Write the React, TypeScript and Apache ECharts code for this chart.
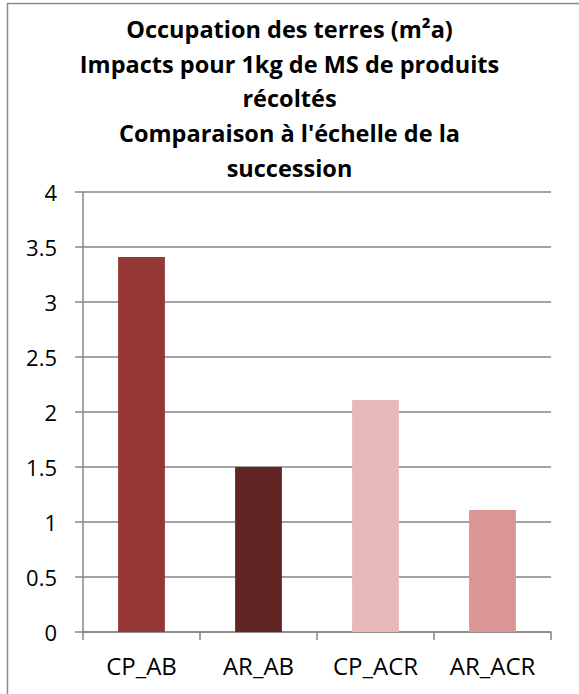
import React, { useEffect, useRef } from "react";
import * as echarts from "echarts";

const categories = ["CP_AB", "AR_AB", "CP_ACR", "AR_ACR"];
const values = [3.41, 1.5, 2.11, 1.11];
const barColors = ["#953735", "#632523", "#E6B9B8", "#D99694"];
const titleLines = [
  "Occupation des terres (m²a)",
  "Impacts pour 1kg de MS de produits",
  "récoltés",
  "Comparaison à l'échelle de la",
  "succession",
];

const FONT = "'Open Sans', Lato, sans-serif";

export default function App() {
  const ref = useRef<HTMLDivElement>(null);
  useEffect(() => {
    document.body.style.margin = "0";
    const chart = echarts.init(ref.current!, null, { renderer: "svg" });
    chart.setOption({
      animation: false,
      backgroundColor: "#ffffff",
      title: {
        text: titleLines.join("\n"),
        left: "center",
        top: 6.5,
        textStyle: {
          fontFamily: FONT,
          fontWeight: "bold",
          fontSize: 23.5,
          lineHeight: 34.7,
          color: "#000000",
        },
      },
      graphic: [
        {
          type: "rect",
          shape: { x: 7.5, y: 3.5, width: 700, height: 800 },
          style: { fill: "none", stroke: "#8a8a8a", lineWidth: 1.5 },
          silent: true,
        },
      ],
      grid: { left: 83, right: 28, top: 192, bottom: 62, containLabel: false },
      xAxis: {
        type: "category",
        data: categories,
        axisLine: { show: true, lineStyle: { color: "#868686", width: 1.5 } },
        axisTick: { show: true, length: 8, lineStyle: { color: "#868686", width: 1.5 } },
        axisLabel: { fontFamily: FONT, fontSize: 24, color: "#000000", margin: 21 },
      },
      yAxis: {
        type: "value",
        min: 0,
        max: 4,
        interval: 0.5,
        axisLine: { show: true, lineStyle: { color: "#868686", width: 1.5 } },
        axisTick: { show: true, length: 8, lineStyle: { color: "#868686", width: 1.5 } },
        splitLine: { show: true, lineStyle: { color: "#868686", width: 1.5 } },
        axisLabel: { fontFamily: FONT, fontSize: 22, color: "#000000", margin: 26 },
      },
      series: [
        {
          type: "bar",
          barWidth: "40%",
          data: values.map((v, i) => ({ value: v, itemStyle: { color: barColors[i] } })),
        },
      ],
    });
    return () => chart.dispose();
  }, []);
  return <div ref={ref} style={{ width: 579, height: 694 }} />;
}
